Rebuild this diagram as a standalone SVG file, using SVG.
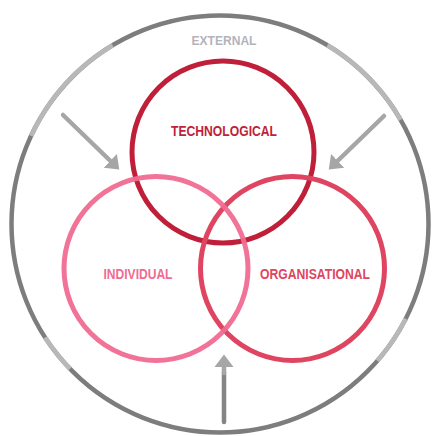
<svg xmlns="http://www.w3.org/2000/svg" width="436" height="436" viewBox="0 0 436 436">
<defs>
<style>
.ring{fill:none;stroke-width:5}
.lbl{font-family:"Liberation Sans",Arial,sans-serif;font-weight:bold;text-anchor:middle;lengthAdjust:spacingAndGlyphs}
.arr{stroke:#a6a6a6;stroke-width:4.5;fill:none;stroke-linecap:round}
.lite{fill:none;stroke:#b8b8b8;stroke-width:4.6}
</style>
<marker id="head" markerUnits="userSpaceOnUse" markerWidth="14" markerHeight="22" viewBox="0 -11 14 22" refX="1" refY="0" orient="auto">
<path d="M0,-9.5 L12.5,0 L0,9.5 z" fill="#a6a6a6"/>
</marker>
</defs>
<rect width="436" height="436" fill="#ffffff"/>
<g id="external">
<circle cx="220" cy="224" r="208.5" fill="none" stroke="#7d7d7d" stroke-width="4.5"/>
<path class="lite" d="M31.1,135.9 A208.5,208.5 0 0 1 112.6,45.3"/>
<path class="lite" d="M327.4,45.3 A208.5,208.5 0 0 1 400.6,119.8"/>
<path class="lite" d="M45.1,337.6 A208.5,208.5 0 0 0 70.0,368.8"/>
<path class="lite" d="M405.8,318.7 A208.5,208.5 0 0 1 377.3,360.8"/>
<text class="lbl" x="224" y="45" font-size="13.5" fill="#b3b3bb" textLength="65" lengthAdjust="spacingAndGlyphs">EXTERNAL</text>
</g>
<g id="connectors">
<line class="arr" x1="63" y1="115" x2="111" y2="161.5" marker-end="url(#head)"/>
<line class="arr" x1="384" y1="116" x2="337" y2="161.5" marker-end="url(#head)"/>
<line x1="224" y1="422" x2="224" y2="372" stroke="#858585" stroke-width="4.5" stroke-linecap="round"/>
<line class="arr" x1="224" y1="373" x2="224" y2="366" stroke-linecap="butt" marker-end="url(#head)"/>
</g>
<g id="technological">
<circle class="ring" cx="223" cy="152" r="91" stroke="#c01f3a"/>
<text class="lbl" x="224" y="136" font-size="14.5" fill="#c01f3a" textLength="106" lengthAdjust="spacingAndGlyphs">TECHNOLOGICAL</text>
</g>
<g id="organisational">
<circle class="ring" cx="292.5" cy="268.5" r="92" stroke="#df4561"/>
<text class="lbl" x="315" y="279" font-size="14.5" fill="#df4561" textLength="110" lengthAdjust="spacingAndGlyphs">ORGANISATIONAL</text>
</g>
<g id="individual">
<circle class="ring" cx="156" cy="268.5" r="92" stroke="#f06b91" stroke-opacity="0.95"/>
<text class="lbl" x="138" y="279" font-size="14.5" fill="#f06b91" textLength="69" lengthAdjust="spacingAndGlyphs">INDIVIDUAL</text>
</g>
</svg>
